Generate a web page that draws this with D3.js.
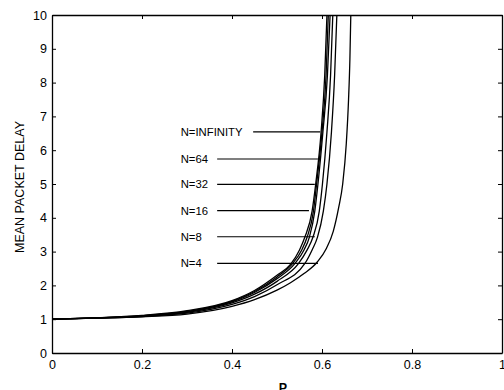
<!DOCTYPE html>
<html>
<head>
<meta charset="utf-8">
<script src="https://cdn.jsdelivr.net/npm/d3@7"></script>
<style>
  body { margin: 0; background: #fff; }
  svg { display: block; font-family: "Liberation Sans", Arial, sans-serif; }
</style>
</head>
<body>
<div id="plot"></div>
<script>
// curve values: [P, mean packet delay]
var curveInf = [[0,1.0],[0.1,1.04],[0.2,1.11],[0.3,1.25],[0.4,1.55],[0.45,1.85],[0.5,2.3],[0.53,2.62],[0.55,3.05],[0.562,3.43],[0.578,4.2],[0.586,5.0],[0.598,6.54],[0.606,8.2],[0.611,10]];
var curve64 = [[0,1.0],[0.1,1.04],[0.2,1.1],[0.3,1.23],[0.4,1.53],[0.45,1.82],[0.5,2.25],[0.535,2.65],[0.555,3.05],[0.567,3.43],[0.581,4.2],[0.588,5.0],[0.6,6.54],[0.609,8.2],[0.614,10]];
var curve32 = [[0,1.0],[0.1,1.04],[0.2,1.1],[0.3,1.22],[0.4,1.51],[0.45,1.79],[0.5,2.2],[0.54,2.65],[0.56,3.05],[0.572,3.43],[0.584,4.2],[0.591,5.0],[0.602,6.54],[0.612,8.2],[0.618,10]];
var curve16 = [[0,1.0],[0.1,1.04],[0.2,1.09],[0.3,1.2],[0.4,1.48],[0.45,1.74],[0.5,2.12],[0.548,2.65],[0.567,3.05],[0.58,3.43],[0.594,4.2],[0.601,5.0],[0.611,6.54],[0.619,8.2],[0.624,10]];
var curve8 = [[0,1.0],[0.1,1.03],[0.2,1.08],[0.3,1.18],[0.4,1.44],[0.45,1.67],[0.5,2.02],[0.562,2.65],[0.578,3.05],[0.59,3.43],[0.603,4.2],[0.611,5.0],[0.621,6.54],[0.628,8.2],[0.633,10]];
var curve4 = [[0,1.0],[0.1,1.03],[0.2,1.07],[0.3,1.15],[0.4,1.38],[0.45,1.58],[0.5,1.86],[0.53,2.08],[0.56,2.35],[0.59,2.7],[0.61,3.1],[0.625,3.6],[0.637,4.3],[0.646,5.0],[0.654,6.2],[0.659,7.5],[0.662,8.7],[0.664,10]];

// annotation labels, their delay level and the P where the leader line starts / ends
var labels = ["N=INFINITY", "N=64", "N=32", "N=16", "N=8", "N=4"];
var labelDelay = [6.54, 5.74, 4.99, 4.21, 3.44, 2.65];
var leaderStart = [0.447, 0.367, 0.367, 0.367, 0.367, 0.367];
var leaderEnd = [0.596, 0.591, 0.584, 0.571, 0.584, 0.591];
var labelP = 0.286;

var xTicks = [0, 0.2, 0.4, 0.6, 0.8, 1];
var yTicks = [0, 1, 2, 3, 4, 5, 6, 7, 8, 9, 10];

var width = 504, height = 390;
var margin = {left: 52, right: 2, top: 15, bottom: 37};
var w = width - margin.left - margin.right;
var h = height - margin.top - margin.bottom;

var svg = d3.select("#plot").append("svg")
  .attr("width", width).attr("height", height);

var g = svg.append("g")
  .attr("transform", "translate(" + margin.left + "," + margin.top + ")");

var x = d3.scaleLinear().domain([0, 1]).range([0, w]);
var y = d3.scaleLinear().domain([0, 10]).range([h, 0]);

// axes with inward ticks, matlab style
var xAxis = d3.axisBottom(x).tickValues(xTicks).tickSizeInner(-4).tickSizeOuter(0)
  .tickPadding(7).tickFormat(function(d){ return d; });
var yAxis = d3.axisLeft(y).tickValues(yTicks).tickSizeInner(-4).tickSizeOuter(0)
  .tickPadding(5);

g.append("g").attr("transform", "translate(0," + h + ")").call(xAxis);
g.append("g").call(yAxis);
g.append("g").call(d3.axisTop(x).tickValues(xTicks).tickSizeInner(-4).tickSizeOuter(0).tickFormat(""));
g.append("g").attr("transform", "translate(" + w + ",0)")
  .call(d3.axisRight(y).tickValues(yTicks).tickSizeInner(-4).tickSizeOuter(0).tickFormat(""));

g.selectAll(".domain").attr("stroke", "#000").attr("stroke-width", 1.3);
g.selectAll(".tick line").attr("stroke", "#000");
g.selectAll(".tick text").attr("font-size", "12.5px").attr("fill", "#000");

svg.append("defs").append("clipPath").attr("id", "clip")
  .append("rect").attr("width", w).attr("height", h);

var line = d3.line()
  .x(function(d){ return x(d[0]); })
  .y(function(d){ return y(d[1]); })
  .curve(d3.curveMonotoneX);

var curves = [curveInf, curve64, curve32, curve16, curve8, curve4];
g.append("g").attr("clip-path", "url(#clip)")
  .selectAll("path").data(curves).enter().append("path")
  .attr("d", line)
  .attr("fill", "none")
  .attr("stroke", "#000")
  .attr("stroke-width", 1.3);

// leader lines and labels
g.selectAll(".leader").data(labels).enter().append("line")
  .attr("class", "leader")
  .attr("x1", function(d, i){ return x(leaderStart[i]); })
  .attr("x2", function(d, i){ return x(leaderEnd[i]); })
  .attr("y1", function(d, i){ return y(labelDelay[i]); })
  .attr("y2", function(d, i){ return y(labelDelay[i]); })
  .attr("stroke", "#000")
  .attr("stroke-width", 1.2);

g.selectAll(".lbl").data(labels).enter().append("text")
  .attr("class", "lbl")
  .attr("x", x(labelP))
  .attr("y", function(d, i){ return y(labelDelay[i]); })
  .attr("dy", "0.36em")
  .attr("font-size", "11.3px")
  .attr("fill", "#000")
  .text(function(d){ return d; });

// axis titles
svg.append("text")
  .attr("x", margin.left + w / 2 + 6).attr("y", 392)
  .attr("text-anchor", "middle")
  .attr("font-size", "12.5px")
  .attr("font-weight", "bold")
  .text("P");

svg.append("text")
  .attr("transform", "translate(24," + 187 + ") rotate(-90)")
  .attr("text-anchor", "middle")
  .attr("font-size", "12.5px")
  .text("MEAN PACKET DELAY");
</script>
</body>
</html>
